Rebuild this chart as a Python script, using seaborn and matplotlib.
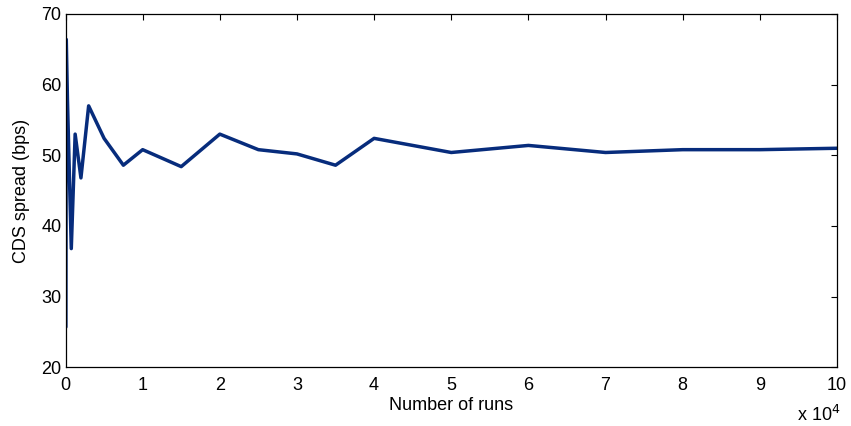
import matplotlib
matplotlib.use("Agg")
import matplotlib.pyplot as plt
import seaborn as sns
import pandas as pd

runs = [50, 100, 250, 750, 1250, 2000, 3000, 5000, 7500, 10000, 15000, 20000,
        25000, 30000, 35000, 40000, 50000, 60000, 70000, 80000, 90000, 100000]
spread = [25.7, 66.4, 58.0, 36.8, 53.0, 46.8, 57.0, 52.4, 48.6, 50.8, 48.4, 53.0,
          50.8, 50.2, 48.6, 52.4, 50.4, 51.4, 50.4, 50.8, 50.8, 51.0]
xticks = [0, 1, 2, 3, 4, 5, 6, 7, 8, 9, 10]
yticks = [20, 30, 40, 50, 60, 70]

sns.set_theme(style="white")
plt.rcParams['font.family'] = ['Liberation Sans', 'DejaVu Sans']
plt.rcParams['text.color'] = 'black'
plt.rcParams['axes.labelcolor'] = 'black'

df = pd.DataFrame({"x": [r / 1e4 for r in runs], "y": spread})

fig = plt.figure(figsize=(8.51, 4.26), dpi=100)
ax = fig.add_axes([65.5 / 851, 1 - 367.3 / 426, (837 - 65.5) / 851, (367.3 - 14) / 426])
sns.lineplot(data=df, x="x", y="y", ax=ax, color="#072c7c", linewidth=2.5,
             sort=False, estimator=None)
ax.set_xlim(0, 10)
ax.set_ylim(20, 70)
ax.set_xticks(xticks)
ax.set_yticks(yticks)
ax.tick_params(direction="in", length=4, width=0.8, top=True, right=True,
               labelsize=13, colors="black")
ax.tick_params(axis="x", pad=7)
ax.tick_params(axis="y", pad=3)
for s in ax.spines.values():
    s.set_visible(True)
    s.set_color("black")
    s.set_linewidth(0.9)
ax.set_xlabel("Number of runs", fontsize=13, labelpad=2)
ax.set_ylabel("CDS spread (bps)", fontsize=13, labelpad=8)
fig.text(797 / 851, 1 - 421 / 426, r"x 10$^4$", fontsize=13, va="baseline")
fig.savefig("out.png", dpi=100)
